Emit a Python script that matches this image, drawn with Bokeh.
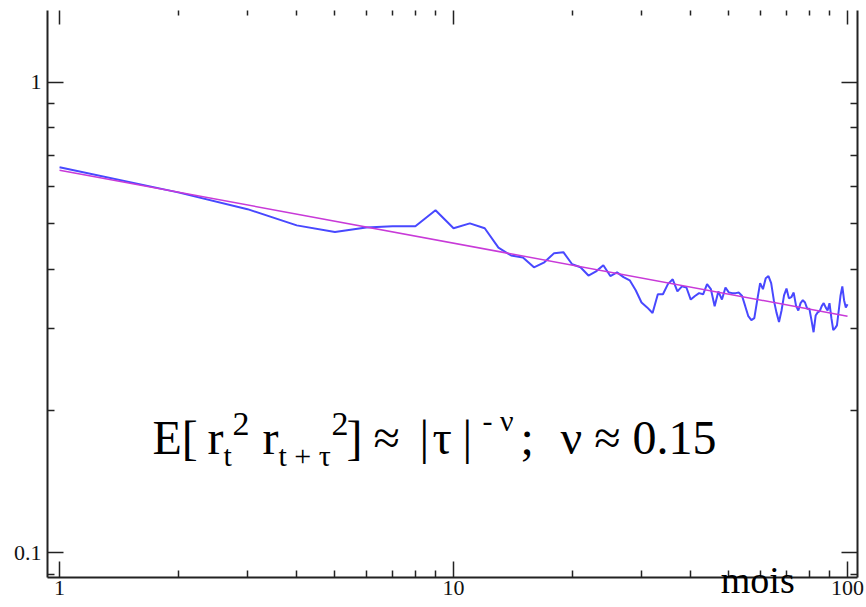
from bokeh.plotting import figure
from bokeh.models import (Range1d, FixedTicker, LogAxis, Label)
from bokeh.embed import file_html
from bokeh.resources import INLINE

# ---- data ----
lag_months = list(range(1, 101))
corr_values = [
    0.659, 0.583, 0.537, 0.496, 0.480, 0.491, 0.494, 0.494, 0.534, 0.489,
    0.501, 0.489, 0.445, 0.428, 0.424, 0.404, 0.414, 0.433, 0.435, 0.410,
    0.404, 0.388, 0.396, 0.408, 0.387, 0.394, 0.385, 0.379, 0.361, 0.340,
    0.332, 0.323, 0.354, 0.354, 0.372, 0.381, 0.359, 0.368, 0.366, 0.345,
    0.351, 0.356, 0.354, 0.372, 0.363, 0.334, 0.359, 0.345, 0.366, 0.357,
    0.356, 0.356, 0.357, 0.351, 0.334, 0.318, 0.312, 0.315, 0.344, 0.374,
    0.363, 0.383, 0.387, 0.374, 0.344, 0.324, 0.309, 0.327, 0.352, 0.364,
    0.347, 0.349, 0.357, 0.335, 0.327, 0.339, 0.344, 0.340, 0.330, 0.330,
    0.312, 0.294, 0.319, 0.324, 0.326, 0.334, 0.339, 0.332, 0.327, 0.339,
    0.315, 0.297, 0.300, 0.304, 0.327, 0.352, 0.368, 0.344, 0.332, 0.337,
]
fit_x = [1, 100]
fit_y = [0.65, 0.318]

x_major = [1, 10, 100]
x_major_labels = ["1", "10", "100"]
x_minor = [2, 3, 4, 5, 6, 7, 8, 9, 20, 30, 40, 50, 60, 70, 80, 90]
y_major = [0.1, 1]
y_major_labels = ["0.1", "1"]
y_minor = [0.09, 0.2, 0.3, 0.4, 0.5, 0.6, 0.7, 0.8, 0.9]

x_label = "mois"

SERIF = "Liberation Serif"
NBSP = "\u00a0"

p = figure(width=866, height=607, x_axis_type="log", y_axis_type="log",
           x_range=Range1d(0.932, 106), y_range=Range1d(0.0885, 1.42),
           output_backend="svg", toolbar_location=None,
           min_border_left=47, min_border_right=9, min_border_top=10,
           min_border_bottom=30, background_fill_color="white",
           border_fill_color="white")
p.outline_line_color = None
p.grid.visible = False


def style_axis(ax, show_labels=True, show_line=True):
    ax.major_tick_in = 16
    ax.major_tick_out = 0
    ax.minor_tick_in = 7
    ax.minor_tick_out = 0
    ax.major_tick_line_width = 1.5
    ax.minor_tick_line_width = 1.5
    ax.major_tick_line_color = "#222222"
    ax.minor_tick_line_color = "#222222"
    ax.axis_line_width = 2
    ax.axis_line_color = "#222222" if show_line else None
    if show_labels:
        ax.major_label_text_font = SERIF
        ax.major_label_text_font_size = "22px"
        ax.major_label_text_color = "#111111"
    else:
        ax.major_label_text_font_size = "5px"
        ax.major_label_text_alpha = 0
        ax.major_label_standoff = 0


xb = p.xaxis[0]
xb.ticker = FixedTicker(ticks=x_major, minor_ticks=x_minor)
xb.major_label_overrides = dict(zip(x_major, x_major_labels))
style_axis(xb)
xb.major_label_standoff = 3

# "mois" as the axis title; the title is centred on the axis end, so it is
# padded with trailing no-break spaces to sit left of the "100" label
xb.axis_label = x_label + NBSP * 21
xb.axis_label_align = "end"
xb.axis_label_text_font = SERIF
xb.axis_label_text_font_size = "38px"
xb.axis_label_text_font_style = "normal"
xb.axis_label_text_color = "black"
xb.axis_label_standoff = -39

yl = p.yaxis[0]
yl.ticker = FixedTicker(ticks=y_major, minor_ticks=y_minor)
yl.major_label_overrides = dict(zip(y_major, y_major_labels))
style_axis(yl)
yl.major_label_standoff = 6

xt = LogAxis(ticker=FixedTicker(ticks=x_major, minor_ticks=x_minor))
style_axis(xt, show_labels=False, show_line=False)
xt.major_tick_in = 14
xt.minor_tick_in = 5
p.add_layout(xt, "above")

yr = LogAxis(ticker=FixedTicker(ticks=y_major, minor_ticks=y_minor))
style_axis(yr, show_labels=False)
p.add_layout(yr, "right")

p.line(lag_months, corr_values, line_color="#4848ff", line_width=2)
p.line(fit_x, fit_y, line_color="#c83ad8", line_width=1.5)

# formula text pieces (screen units)
pieces = [
    ("E[", 105, 140, "48px"),
    ("r", 160, 140, "48px"),
    ("t", 176, 122, "30px"),
    ("2", 185, 154, "34px"),
    ("r", 215, 140, "48px"),
    ("t + τ", 231, 122, "30px"),
    ("2", 284, 154, "34px"),
    ("]", 299, 140, "48px"),
    ("≈", 326, 140, "48px"),
    ("|", 372, 140, "48px"),
    ("τ", 385, 140, "48px"),
    ("|", 415, 140, "48px"),
    ("- ν", 435, 157, "30px"),
    (";", 473, 140, "48px"),
    ("ν ≈ 0.15", 513, 140, "48px"),
]
for txt, sx, sy, size in pieces:
    p.add_layout(Label(x=sx, y=sy, x_units="screen", y_units="screen",
                       text=txt, text_font=SERIF, text_font_size=size,
                       text_color="black", text_baseline="alphabetic"))

open("out.html", "w").write(file_html(p, INLINE))
